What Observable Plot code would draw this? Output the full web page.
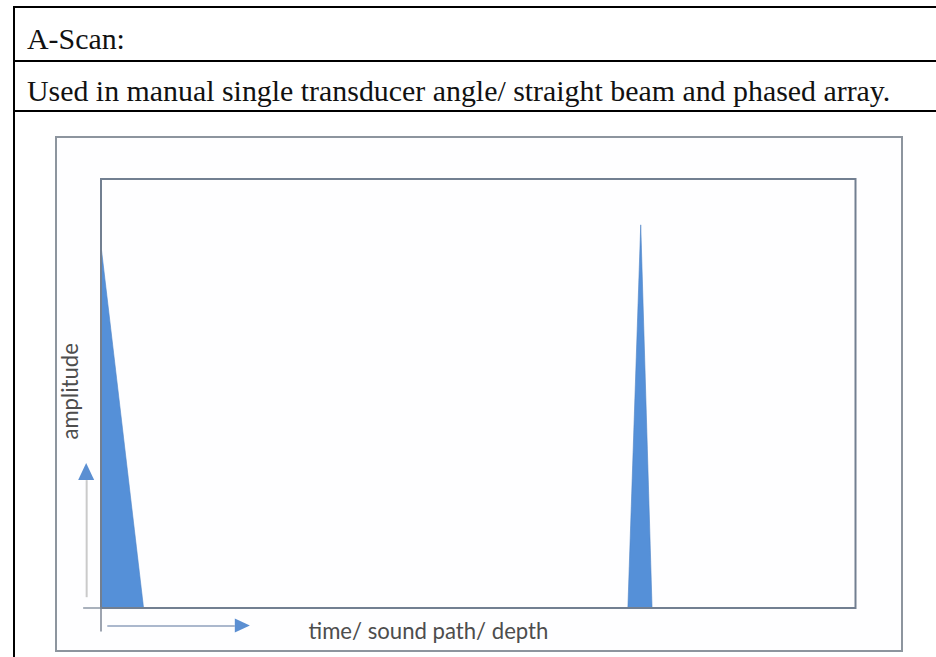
<!DOCTYPE html>
<html><head><meta charset="utf-8">
<script src="https://cdn.jsdelivr.net/npm/d3@7"></script>
<script src="https://cdn.jsdelivr.net/npm/@observablehq/plot@0.6"></script>
<style>
body{margin:0;background:#fff;}
#page{position:relative;width:936px;height:657px;overflow:hidden;background:#fff;}
.rule{position:absolute;background:#000;}
.row{position:absolute;left:27px;white-space:nowrap;color:#111;font-family:"Liberation Serif",serif;line-height:1;}
#figure{position:absolute;left:55px;top:136px;width:844px;height:512px;border:2px solid #8d959e;background:#fefeff;}
#figure svg{display:block;overflow:visible;}
</style></head><body>
<div id="page">
  <div class="rule" style="left:13px;top:6px;width:2px;height:651px"></div>
  <div class="rule" style="left:13px;top:6px;width:923px;height:2px"></div>
  <div class="rule" style="left:13px;top:60px;width:923px;height:2px"></div>
  <div class="rule" style="left:13px;top:110px;width:923px;height:2px"></div>
  <div class="row" id="row1"></div>
  <div class="row" id="row2"></div>
  <div id="figure"></div>
</div>
<script>
// ---- texts ----
const rowTitle = "A-Scan:";
const rowDescription = "Used in manual single transducer angle/ straight beam and phased array.";
const xAxisLabel = "time/ sound path/ depth";
const yAxisLabel = "amplitude";

// ---- echo data (time 0–100, amplitude 0–100) ----
const initialPulseTime = [0, 0, 5.7];
const initialPulseAmplitude = [0, 85.3, 0];
const backWallEchoTime = [69.9, 71.6, 73.1];
const backWallEchoAmplitude = [0, 89.2, 0];

// ---- annotation positions (data units) ----
const ampArrow = {x: -1.9, from: 2.4, to: 29.7, tip: 33.7, half: 1.06};
const timeArrow = {y: -4.2, from: 0.9, to: 17.8, tip: 19.8, half: 1.63};
const xLabelPos = {x: 43.4, y: -5.6};
const yLabelPos = {x: -3.96, y: 50.5};
const originTicks = {xLeft: -2.3, yBelow: -5.6};

// build tables
const echoes = [
  ...initialPulseTime.map((t, i) => ({echo: "initial pulse", t, a: initialPulseAmplitude[i]})),
  ...backWallEchoTime.map((t, i) => ({echo: "back-wall echo", t, a: backWallEchoAmplitude[i]}))
];

function measure(text, font) {
  const c = document.createElement("canvas").getContext("2d");
  c.font = font;
  return c.measureText(text).width;
}

// title rows
const titleSize = 864 / measure(rowDescription, "100px 'Liberation Serif'") * 100;
const r1 = document.getElementById("row1");
const r2 = document.getElementById("row2");
r1.textContent = rowTitle; r2.textContent = rowDescription;
r1.style.fontSize = r2.style.fontSize = titleSize + "px";
r1.style.top = (49 - 0.8375 * titleSize) + "px";
r2.style.top = (101 - 0.8375 * titleSize) + "px";

const labelSize = 240 / measure(xAxisLabel, "100px Lato") * 100;

const blue = "#5590d8";

const chart = Plot.plot({
  width: 844,
  height: 512,
  marginLeft: 43.5,
  marginRight: 46,
  marginTop: 40.5,
  marginBottom: 42.5,
  x: {domain: [0, 100], axis: null},
  y: {domain: [0, 100], axis: null},
  style: {background: "transparent", overflow: "visible"},
  marks: [
    Plot.areaY(echoes, {x: "t", y: "a", z: "echo", fill: blue, stroke: "#4d83c6", strokeWidth: 0.6, curve: "linear"}),
    Plot.frame({stroke: "#727f91", strokeWidth: 2}),
    // origin tick extensions
    Plot.ruleY([0], {x1: originTicks.xLeft, x2: 0, stroke: "#8c97a6", strokeWidth: 1.5}),
    Plot.ruleX([0], {y1: originTicks.yBelow, y2: 0, stroke: "#7c8696", strokeWidth: 1.5}),
    // amplitude arrow
    Plot.ruleX([ampArrow.x], {y1: ampArrow.from, y2: ampArrow.to, stroke: "#cacaca", strokeWidth: 2}),
    Plot.areaX([
      {y: ampArrow.to, x1: ampArrow.x - ampArrow.half, x2: ampArrow.x + ampArrow.half},
      {y: ampArrow.tip, x1: ampArrow.x, x2: ampArrow.x}
    ], {y: "y", x1: "x1", x2: "x2", fill: "#5b8fd2"}),
    // time arrow
    Plot.ruleY([timeArrow.y], {x1: timeArrow.from, x2: timeArrow.to, stroke: "#8fa0bd", strokeWidth: 1.5}),
    Plot.areaY([
      {x: timeArrow.to, y1: timeArrow.y - timeArrow.half, y2: timeArrow.y + timeArrow.half},
      {x: timeArrow.tip, y1: timeArrow.y, y2: timeArrow.y}
    ], {x: "x", y1: "y1", y2: "y2", fill: "#5b8fd2"}),
    // axis labels
    Plot.text([xLabelPos], {x: "x", y: "y", text: () => xAxisLabel, fontSize: labelSize, fontFamily: "Lato", fill: "#4d4d4d"}),
    Plot.text([yLabelPos], {x: "x", y: "y", text: () => yAxisLabel, rotate: -90, fontSize: labelSize, fontFamily: "Lato", fill: "#4d4d4d"})
  ]
});
document.getElementById("figure").appendChild(chart);
</script>
</body></html>
